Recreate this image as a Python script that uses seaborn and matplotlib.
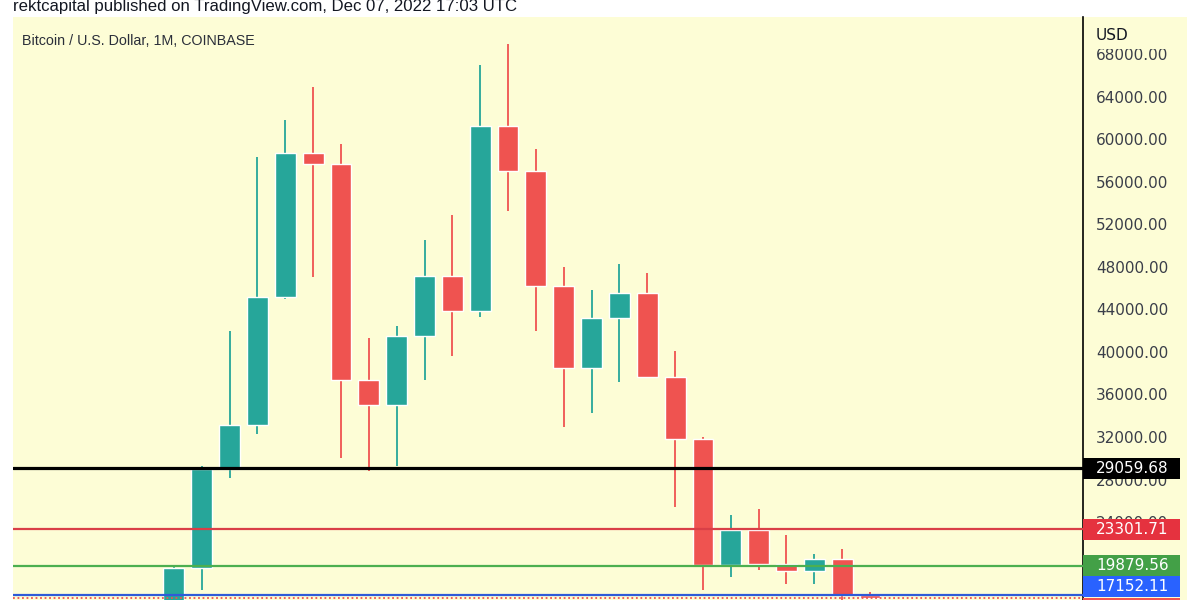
import seaborn as sns
import matplotlib
matplotlib.use("Agg")
import matplotlib.pyplot as plt
from matplotlib.patches import Rectangle
import matplotlib.transforms as mtransforms
import numpy as np

# monthly BTC/USD candles, Nov 2020 .. Dec 2022
months = ['2020-11', '2020-12', '2021-01', '2021-02', '2021-03', '2021-04', '2021-05',
          '2021-06', '2021-07', '2021-08', '2021-09', '2021-10', '2021-11', '2021-12',
          '2022-01', '2022-02', '2022-03', '2022-04', '2022-05', '2022-06', '2022-07',
          '2022-08', '2022-09', '2022-10', '2022-11', '2022-12']
opens = [13797, 19713, 28990, 33114, 45137, 58740, 57720, 37332, 35045, 41490, 47130,
         43823, 61300, 57005, 46219, 38466, 43178, 45525, 37630, 31792, 19923, 23292,
         20050, 19431, 20495, 17165]
highs = [19863, 29300, 41950, 58367, 61788, 64895, 59592, 41330, 42448, 50500, 52920,
         67000, 69000, 59100, 47990, 45850, 48240, 47444, 40050, 31982, 24668, 25211,
         22799, 20988, 21480, 17400]
lows = [13195, 17572, 28130, 32296, 45000, 47044, 30000, 28800, 29278, 37332, 39600,
        43283, 53256, 42000, 32917, 34300, 37155, 37690, 25450, 17592, 18782, 19520,
        18125, 18190, 15476, 16750]
closes = [19713, 28990, 33114, 45137, 58740, 57720, 37332, 35045, 41490, 47130, 43823,
          61300, 57005, 46219, 38466, 43178, 45525, 37630, 31792, 19923, 23292, 20050,
          19431, 20495, 17165, 16808.73]

level_prices = [29059.68, 23301.71, 19879.56, 17152.11]
level_colors = ['#000000', '#d93f47', '#4caf50', '#2f5bd8']
level_widths = [2.3, 1.6, 1.6, 1.6]
last_price = 16808.73

label_prices = [29059.68, 23301.71, 19879.56, 17152.11, 16808.73]
label_colors = ['#000000', '#e5323f', '#43a047', '#2962ff', '#ef5350']
label_shift_px = [0, 0, 0, 8, -10]   # tradingview pushes overlapping labels apart

UP, DOWN = '#26a69a', '#ef5350'
BG = '#fdfdd6'

sns.set_style("white")
plt.rcParams['font.family'] = ['DejaVu Sans']

W, H = 1200, 600
fig = plt.figure(figsize=(12, 6), dpi=100)
fig.patch.set_facecolor('white')
fig.patches.append(Rectangle((13 / W, 0), (1187 - 13) / W, 583 / H, transform=fig.transFigure,
                             facecolor=BG, edgecolor='none', zorder=-5))

ax = fig.add_axes([13 / W, 0, (1083 - 13) / W, 583 / H])
ax.set_facecolor('none')
ylo, yhi = 16659, 71529
ax.set_ylim(ylo, yhi)
ax.set_xlim(-5.78, 32.65)

x = np.arange(len(months))
o, h, l, c = map(np.array, (opens, highs, lows, closes))
colors = np.where(c >= o, UP, DOWN)
ax.vlines(x, l, h, colors=colors, linewidth=1.3, zorder=3)
ax.bar(x, np.abs(c - o), bottom=np.minimum(o, c), width=0.75, color=colors, zorder=4)

for p, col, lw in zip(level_prices, level_colors, level_widths):
    ax.axhline(p, color=col, linewidth=lw, zorder=5)
ax.axhline(last_price, color=DOWN, linewidth=1.3, linestyle=(0, (1, 1.5)), zorder=5)

for s in ['top', 'left', 'bottom']:
    ax.spines[s].set_visible(False)
ax.spines['right'].set_color('black')
ax.spines['right'].set_linewidth(1.2)
ax.set_xticks([])
ax.yaxis.tick_right()
ax.set_yticks(np.arange(20000, 72000, 4000))
ax.yaxis.set_major_formatter(matplotlib.ticker.FormatStrFormatter('%.2f'))
ax.tick_params(axis='y', length=0, pad=9.4, labelsize=11, labelcolor='#3a3e49')

# price label boxes on the scale
pax = fig.add_axes([1083 / W, 0, 104 / W, 583 / H], sharey=ax)
pax.set_facecolor('none')
pax.set_axis_off()
pax.set_zorder(5)
scale = 583 / (yhi - ylo)
box_h = 21 / scale
trans = mtransforms.blended_transform_factory(pax.transAxes, pax.transData)
for p, col, dy in zip(label_prices, label_colors, label_shift_px):
    yc = p + dy / scale
    pax.add_patch(Rectangle((0, yc - box_h / 2), 97 / 104, box_h, transform=trans,
                            facecolor=col, edgecolor='none', clip_on=False))
    pax.text(13 / 104, yc, f'{p:.2f}', transform=trans, color='white', fontsize=11,
             va='center', ha='left', clip_on=False)

# the USD caption sits over the top tick label, hiding its upper half
fig.patches.append(Rectangle((1086 / W, 1 - 49 / H), 98 / W, 31 / H, transform=fig.transFigure,
                             facecolor=BG, edgecolor='none', zorder=8))
fig.text(1096 / W, 1 - 35 / H, 'USD', fontsize=11, color='#131722', va='center', ha='left',
         zorder=10)
fig.text(13 / W, 1 - 6 / H, 'rektcapital published on TradingView.com, Dec 07, 2022 17:03 UTC',
         fontsize=12.1, color='#131722', va='center', ha='left', family='Liberation Sans')
fig.text(22 / W, 1 - 41 / H, 'Bitcoin / U.S. Dollar, 1M, COINBASE', fontsize=10.3,
         color='#2a2e39', va='center', ha='left', family='Liberation Sans')

fig.savefig('out.png', dpi=100, facecolor='white')
